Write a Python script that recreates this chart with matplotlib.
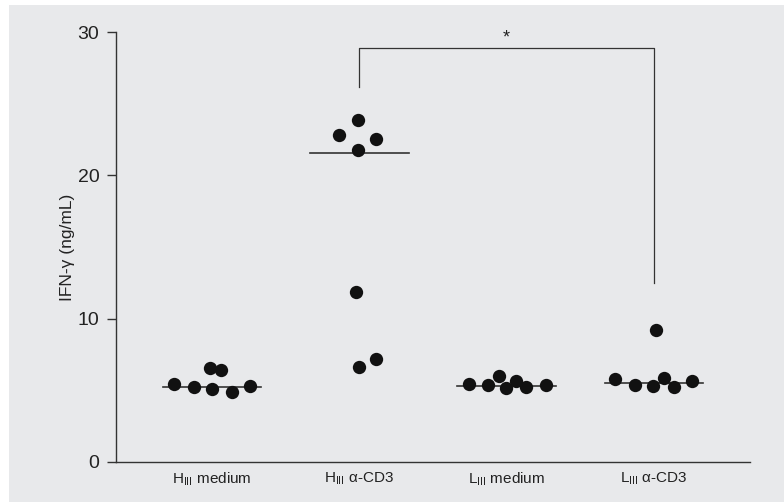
import numpy as np
import matplotlib
matplotlib.use('Agg')
import matplotlib.pyplot as plt
from matplotlib.patches import Rectangle

plt.rcParams['font.family'] = ['Liberation Sans', 'DejaVu Sans']
plt.rcParams['mathtext.fontset'] = 'custom'
plt.rcParams['mathtext.rm'] = 'Liberation Sans'

# data (IFN-gamma, ng/mL)
groups = [r'H$_{\mathrm{III}}$ medium', r'H$_{\mathrm{III}}$ α-CD3',
          r'L$_{\mathrm{III}}$ medium', r'L$_{\mathrm{III}}$ α-CD3']
group_x = [1, 2, 3, 4]
h_medium = [5.41, 5.24, 5.08, 4.89, 5.31, 6.55, 6.39]
h_cd3 = [23.88, 22.81, 22.57, 21.76, 11.86, 7.18, 6.64]
l_medium = [5.41, 5.34, 5.99, 5.15, 5.64, 5.22, 5.34]
l_cd3 = [9.20, 5.76, 5.38, 5.29, 5.87, 5.24, 5.64]
# horizontal jitter of each dot inside its group
h_medium_dx = [-0.26, -0.12, 0.0, 0.136, 0.26, -0.015, 0.06]
h_cd3_dx = [-0.01, -0.14, 0.115, -0.007, -0.02, 0.113, -0.005]
l_medium_dx = [-0.258, -0.124, -0.054, -0.007, 0.066, 0.134, 0.27]
l_cd3_dx = [0.012, -0.265, -0.129, -0.007, 0.066, 0.136, 0.261]
medians = [5.24, 21.57, 5.31, 5.48]
bracket_top = 28.88
bracket_left_end = 26.2
bracket_right_end = 12.49

values = [h_medium, h_cd3, l_medium, l_cd3]
jitter = [h_medium_dx, h_cd3_dx, l_medium_dx, l_cd3_dx]

fig = plt.figure(figsize=(7.84, 5.04), dpi=100)
fig.patch.set_facecolor('white')
W, H = 784, 504
bg = Rectangle((9 / W, (H - 502) / H), (W - 9) / W, 497 / H,
               transform=fig.transFigure, facecolor='#e8e9eb',
               edgecolor='none', zorder=-10)
fig.patches.append(bg)

ax = fig.add_axes([116 / W, (H - 461.7) / H, (750 - 116) / W, (461.7 - 32.3) / H])
ax.set_facecolor('none')
ax.set_zorder(1)

for i in range(len(groups)):
    xs = group_x[i] + np.array(jitter[i])
    ax.scatter(xs, values[i], s=92, color='#111111', zorder=3, linewidths=0)
    ax.plot([group_x[i] - 0.335, group_x[i] + 0.335], [medians[i], medians[i]],
            color='#333333', lw=1.2, zorder=2)

# significance bracket
ax.plot([group_x[1], group_x[1], group_x[3], group_x[3]],
        [bracket_left_end, bracket_top, bracket_top, bracket_right_end],
        color='#333333', lw=0.9, clip_on=False)
ax.text((group_x[1] + group_x[3]) / 2, bracket_top + 0.7, '*', ha='center',
        va='center', fontsize=13, color='#222222')

ax.set_xlim(0.348, 4.652)
ax.set_ylim(0, 30)
ax.set_yticks([0, 10, 20, 30])
ax.set_xticks(group_x)
ax.set_xticklabels(groups, fontsize=11, color='#222222')
ax.tick_params(axis='x', length=0, pad=6)
ax.tick_params(axis='y', length=6.5, width=1, pad=5.5, labelsize=14,
               color='#333333', labelcolor='#222222')
ax.set_ylabel('IFN-γ (ng/mL)', fontsize=12.5, color='#222222', labelpad=2)
for side in ['top', 'right']:
    ax.spines[side].set_visible(False)
for side in ['left', 'bottom']:
    ax.spines[side].set_color('#333333')
    ax.spines[side].set_linewidth(1.0)

fig.savefig('out.png', dpi=100, facecolor=fig.get_facecolor())
